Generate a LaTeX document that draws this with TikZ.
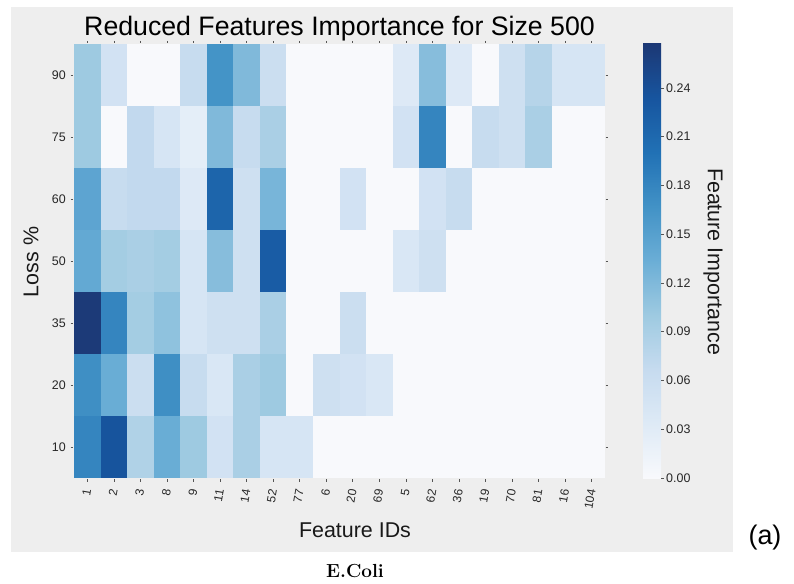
\documentclass[tikz,border=0pt]{standalone}
\usepackage{fontspec}
\newfontfamily\plotfont{Liberation Sans}
\usetikzlibrary{positioning}
\definecolor{panel}{HTML}{EEEEEE}
\definecolor{tickc}{HTML}{555555}
\definecolor{blues0}{HTML}{F8F9FC}
\definecolor{blues1}{HTML}{DEEAF6}
\definecolor{blues2}{HTML}{C6DBEF}
\definecolor{blues3}{HTML}{9ECAE1}
\definecolor{blues4}{HTML}{6BAED6}
\definecolor{blues5}{HTML}{4292C6}
\definecolor{blues6}{HTML}{2171B5}
\definecolor{blues7}{HTML}{17559F}
\definecolor{blues8}{HTML}{1C3875}
\pgfdeclareverticalshading{bluesbar}{100bp}{color(0bp)=(blues0); color(25bp)=(blues0);
  color(31.25bp)=(blues1); color(37.5bp)=(blues2); color(43.75bp)=(blues3);
  color(50bp)=(blues4); color(56.25bp)=(blues5); color(62.5bp)=(blues6);
  color(68.75bp)=(blues7); color(75bp)=(blues8); color(100bp)=(blues8)}
\newcommand{\setheat}[1]{%
  \pgfmathsetmacro\heatt{min(#1/26.7,1)*8}%
  \pgfmathtruncatemacro\heatseg{min(floor(\heatt),7)}%
  \pgfmathtruncatemacro\heatpct{round(100-(\heatt-\heatseg)*100)}%
  \pgfmathtruncatemacro\heatnxt{\heatseg+1}%
  \colorlet{heat}{blues\heatseg!\heatpct!blues\heatnxt}}

\begin{document}
\begin{tikzpicture}[
    x=1bp, y=-1bp,
    every node/.style={font=\plotfont, inner sep=0pt},
    ticklbl/.style={font=\plotfont\fontsize{12.5}{14}\selectfont, text=black!85},
    xtick/.style={ticklbl, font=\plotfont\fontsize{12}{14}\selectfont, rotate=80, anchor=east},
    axlbl/.style={font=\plotfont\fontsize{21.5}{24}\selectfont, text=black!90},
    tickmark/.style={draw=tickc, line width=0.6bp},
  ]
  \useasboundingbox (0,0) rectangle (794,584);
  \fill[panel] (11,7) rectangle (733,552);

  \node[font=\plotfont\fontsize{26.8}{30}\selectfont, anchor=base] (title) at (339.5,36)
    {Reduced Features Importance for Size 500};

  \foreach \row [count=\r from 0] in {
      {10,5,0,0,6.5,16.5,12,6,0,0,0,0,3.5,11.5,3.5,0,5.5,8,4.5,4.5},
      {10,0,7,4.5,2.5,12,6.5,9,0,0,0,0,5,18,0,6.5,5.5,9,0,0},
      {14.5,6.5,7,7,3.5,21.5,5.5,12.5,0,0,5,0,0,5,6.5,0,0,0,0,0},
      {14,9.5,9,9.5,4.5,11.5,5.5,22.5,0,0,0,0,4,5.5,0,0,0,0,0,0},
      {26.5,18,9.5,11,4.5,5.5,5.5,9,0,0,6,0,0,0,0,0,0,0,0,0},
      {17,13.5,6,17,6.5,4,9,10,0,5.5,5,4,0,0,0,0,0,0,0,0},
      {18,23.5,8.5,13.5,10,5,9,4.5,4.5,0,0,0,0,0,0,0,0,0,0,0}}{
    \foreach \v [count=\c from 0] in \row {
      \setheat{\v}
      \fill[heat] ({74+\c*26.55},{44+\r*62}) rectangle ({74.4+(\c+1)*26.55},{44.4+(\r+1)*62});
    }
  }

  \foreach \lo [count=\r from 0] in {90,75,60,50,35,20,10}{
    \node[ticklbl, anchor=east] (yl\r) at (66,{75+\r*62}) {\lo};
    \draw[tickmark] (70.5,{75+\r*62}) -- (73,{75+\r*62});
    \draw[tickmark] (605.5,{75+\r*62}) -- (608,{75+\r*62});
  }
  \foreach \id [count=\c from 0] in {1,2,3,8,9,11,14,52,77,6,20,69,5,62,36,19,70,81,16,104}{
    \node[xtick] (xl\c) at ({74+(\c+0.5)*26.55},489) {\id};
    \draw[tickmark] ({74+(\c+0.5)*26.55},479) -- ({74+(\c+0.5)*26.55},481.5);
    \draw[tickmark] ({74+(\c+0.5)*26.55},41) -- ({74+(\c+0.5)*26.55},43.5);
  }

  \node[axlbl, anchor=base] (xlabel) at (355,537.5) {Feature IDs};
  \node[axlbl, rotate=90] (ylabel) at (31,262) {Loss \%};

  \shade[shading=bluesbar] (643,44) rectangle (661,478);
  \foreach \cv in {0.00,0.03,0.06,0.09,0.12,0.15,0.18,0.21,0.24}{
    \draw[tickmark] (661,{478-\cv*1625.5}) -- (663.5,{478-\cv*1625.5});
    \node[ticklbl, anchor=west] (cb\cv) at (666,{478-\cv*1625.5}) {\cv};
  }
  \node[axlbl, rotate=-90] (cblabel) at (713,261.5) {Feature Importance};

  \node[font=\plotfont\fontsize{27}{30}\selectfont] (panel) at (765,538) {(a)};
  \node[font=\normalfont\bfseries\fontsize{19}{22}\selectfont, anchor=base] (caption) at (355,577) {E.Coli};
\end{tikzpicture}
\end{document}
